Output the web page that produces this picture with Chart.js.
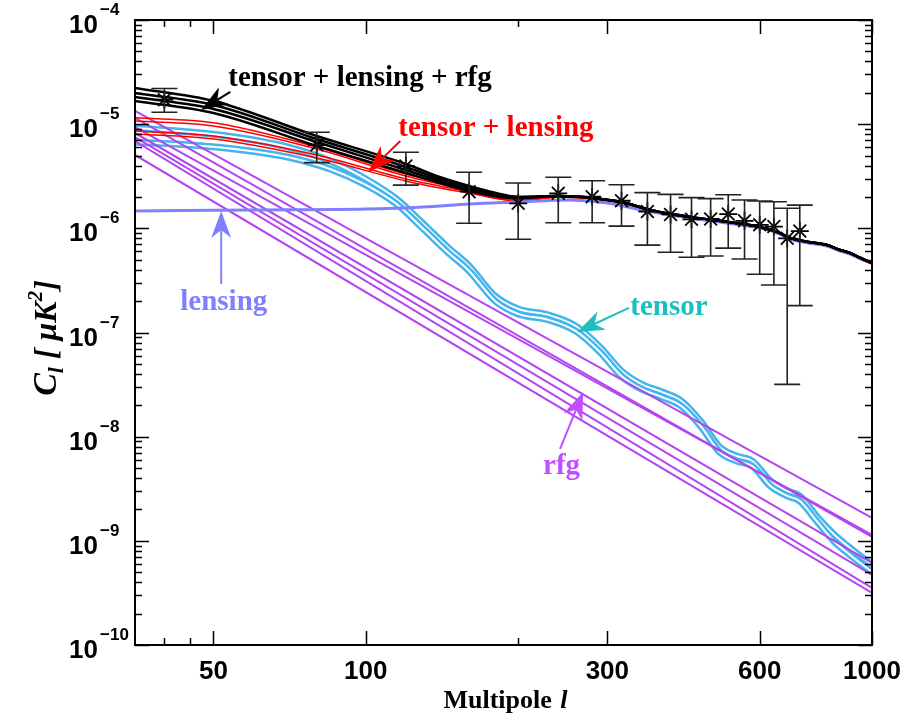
<!DOCTYPE html>
<html><head><meta charset="utf-8">
<script src="https://cdn.jsdelivr.net/npm/chart.js@4/dist/chart.umd.min.js"></script>
<style>html,body{margin:0;padding:0;background:#fff;}#wrap{width:904px;height:717px;}</style>
</head><body><div id="wrap"><canvas id="c" width="904" height="717"></canvas></div>
<script>
// ---------- data ----------
const ELL_BLACK = [35,50,80,120,140,160,184,200,240,280,320,360,400,450,520,600,650,690,750,815,865,905,950,1000];
const black1 = [2.23e-5,1.67e-5,7.70e-6,4.15e-6,3.11e-6,2.55e-6,2.14e-6,2.00e-6,2.04e-6,1.96e-6,1.79e-6,1.53e-6,1.37e-6,1.26e-6,1.15e-6,1.03e-6,9.22e-7,8.08e-7,7.39e-7,6.92e-7,6.19e-7,5.80e-7,5.19e-7,4.65e-7];
const black2 = [1.99e-5,1.53e-5,7.20e-6,3.88e-6,2.98e-6,2.44e-6,2.09e-6,2.00e-6,2.04e-6,1.96e-6,1.79e-6,1.53e-6,1.37e-6,1.26e-6,1.15e-6,1.03e-6,9.22e-7,8.08e-7,7.39e-7,6.92e-7,6.19e-7,5.80e-7,5.19e-7,4.65e-7];
const black3 = [1.82e-5,1.40e-5,6.74e-6,3.63e-6,2.85e-6,2.39e-6,2.04e-6,1.96e-6,2.04e-6,1.96e-6,1.79e-6,1.53e-6,1.37e-6,1.26e-6,1.15e-6,1.03e-6,9.22e-7,8.08e-7,7.39e-7,6.92e-7,6.19e-7,5.80e-7,5.19e-7,4.65e-7];
const black4 = [1.67e-5,1.28e-5,6.17e-6,3.40e-6,2.72e-6,2.28e-6,2.00e-6,1.96e-6,2.04e-6,1.96e-6,1.79e-6,1.53e-6,1.37e-6,1.26e-6,1.15e-6,1.03e-6,9.22e-7,8.08e-7,7.39e-7,6.92e-7,6.19e-7,5.80e-7,5.19e-7,4.65e-7];

const red1 = [1.15e-5,1.03e-5,6.04e-6,3.32e-6,2.79e-6,2.33e-6,2.00e-6,1.91e-6,2.00e-6,1.92e-6,1.75e-6,1.50e-6,1.34e-6,1.23e-6,1.12e-6,1.01e-6,9.0e-7,7.9e-7,7.2e-7,6.8e-7,6.05e-7,5.7e-7,5.08e-7,4.55e-7];
const red2 = [1.07e-5,9.60e-6,5.78e-6,3.18e-6,2.66e-6,2.28e-6,1.96e-6,1.87e-6,2.00e-6,1.92e-6,1.75e-6,1.50e-6,1.34e-6,1.23e-6,1.12e-6,1.01e-6,9.0e-7,7.9e-7,7.2e-7,6.8e-7,6.05e-7,5.7e-7,5.08e-7,4.55e-7];
const red3 = [8.60e-6,7.70e-6,5.06e-6,2.98e-6,2.55e-6,2.23e-6,1.91e-6,1.83e-6,2.00e-6,1.92e-6,1.75e-6,1.50e-6,1.34e-6,1.23e-6,1.12e-6,1.01e-6,9.0e-7,7.9e-7,7.2e-7,6.8e-7,6.05e-7,5.7e-7,5.08e-7,4.55e-7];
const red4 = [8.05e-6,7.20e-6,4.73e-6,2.85e-6,2.44e-6,2.18e-6,1.91e-6,1.83e-6,2.00e-6,1.92e-6,1.75e-6,1.50e-6,1.34e-6,1.23e-6,1.12e-6,1.01e-6,9.0e-7,7.9e-7,7.2e-7,6.8e-7,6.05e-7,5.7e-7,5.08e-7,4.55e-7];

const ELL_LENS = [35,60,100,130,160,200,250,300,350,400,450,520,600,650,690,750,815,865,905,950,1000];
const lensing = [1.47e-6,1.50e-6,1.53e-6,1.60e-6,1.71e-6,1.79e-6,1.87e-6,1.75e-6,1.50e-6,1.34e-6,1.23e-6,1.12e-6,1.01e-6,9.02e-7,7.90e-7,7.23e-7,6.77e-7,6.06e-7,5.67e-7,5.08e-7,4.65e-7];

const ELL_TENSOR = [35,45,55,70,85,100,115,130,145,160,180,200,230,260,290,320,350,385,420,460,500,540,580,630,680,720,780,840,900,1000];
const tensorA = [9.19e-6,8.41e-6,7.53e-6,6.04e-6,4.43e-6,2.98e-6,1.91e-6,1.10e-6,6.62e-7,4.35e-7,2.24e-7,1.68e-7,1.47e-7,1.15e-7,7.26e-8,4.27e-8,3.20e-8,2.68e-8,2.20e-8,1.38e-8,7.96e-9,6.52e-9,5.84e-9,3.75e-9,3.01e-9,2.70e-9,1.69e-9,1.16e-9,8.73e-10,5.86e-10];
const tensorB = [6.74e-6,6.31e-6,5.78e-6,4.84e-6,3.71e-6,2.61e-6,1.71e-6,9.86e-7,5.93e-7,3.90e-7,2.01e-7,1.51e-7,1.32e-7,1.03e-7,6.50e-8,3.82e-8,2.87e-8,2.40e-8,1.97e-8,1.24e-8,7.13e-9,5.84e-9,5.23e-9,3.36e-9,2.70e-9,2.41e-9,1.52e-9,9.97e-10,7.48e-10,5.02e-10];

const ELL_RFG = [35, 1000];
const rfg1 = [1.34e-5, 1.66e-9];
const rfg2 = [1.15e-5, 1.09e-9];
const rfg3 = [9.39e-6, 1.14e-9];
const rfg4 = [8.23e-6, 6.13e-10];
const rfg5 = [7.53e-6, 4.70e-10];
const rfg6 = [6.89e-6, 3.53e-10];
const rfg7 = [5.06e-6, 3.16e-10];

const obsEll = [40,80,120,160,200,240,280,320,360,400,440,480,520,560,600,640,680,720];
const obsC   = [1.72e-5,6.3e-6,3.96e-6,2.25e-6,1.74e-6,2.17e-6,2.01e-6,1.84e-6,1.45e-6,1.36e-6,1.22e-6,1.23e-6,1.37e-6,1.18e-6,1.08e-6,1.04e-6,8.02e-7,9.42e-7];
const obsHi  = [2.2e-5,8.35e-6,5.37e-6,3.45e-6,2.72e-6,3.09e-6,2.86e-6,2.62e-6,2.2e-6,2.12e-6,1.97e-6,1.93e-6,2.1e-6,1.87e-6,1.83e-6,1.8e-6,1.56e-6,1.67e-6];
const obsLo  = [1.3e-5,4.27e-6,2.6e-6,1.12e-6,7.85e-7,1.13e-6,1.13e-6,1.05e-6,6.9e-7,5.89e-7,5.27e-7,5.43e-7,6.45e-7,5.08e-7,3.62e-7,2.86e-7,3.18e-8,1.81e-7];

const xMajorTicks = [50,100,300,600,1000];
const xMinorTicks = [40,45,200];
const xTickLabels = ["50","100","300","600","1000"];
const yDecades = [-10,-9,-8,-7,-6,-5,-4];

// annotations: [text, color, anchor l, anchor C] and arrows [color, tail l, tail C, tip l, tip C]
const annTexts = [
  ["tensor + lensing + rfg", "#000000", 53.5, 2.33e-5],
  ["tensor + lensing", "#ff0000", 115.9, 7.70e-6],
  ["lensing", "#8080ff", 43.0, 1.64e-7],
  ["tensor", "#1cbfbf", 333, 1.47e-7],
  ["rfg", "#c050ff", 224, 4.38e-9]
];
const annArrows = [
  ["#000000", 54.0, 2.04e-5, 47.3, 1.37e-5],
  ["#ff0000", 117.0, 6.89e-6, 101.1, 3.47e-6],
  ["#8080ff", 51.8, 2.92e-7, 51.8, 1.47e-6],
  ["#1cbfbf", 331, 1.72e-7, 261.6, 1.01e-7],
  ["#c050ff", 242, 7.62e-9, 268.8, 2.68e-8]
];

// ---------- chart ----------
const SANS = '"Liberation Sans", Arial, Helvetica, sans-serif';
const SERIF = '"Liberation Serif", "Times New Roman", Times, serif';
const pts = (ell, v) => ell.map((l, i) => ({x: l, y: v[i]}));
const TBLUE = '#45b5ee', RFGC = '#b444f0';

const ds = [];
function line(data, color, width, extra) {
  ds.push(Object.assign({data, borderColor: color, borderWidth: width, pointRadius: 0,
    showLine: true, fill: false, cubicInterpolationMode: 'monotone'}, extra || {}));
}
line(pts(ELL_TENSOR, tensorA), TBLUE, 7);
line(pts(ELL_TENSOR, tensorA), '#ffffff', 2);
line(pts(ELL_TENSOR, tensorB), TBLUE, 7);
line(pts(ELL_TENSOR, tensorB), '#ffffff', 2);
[rfg1, rfg2, rfg3, rfg4, rfg5, rfg6, rfg7].forEach(r => line(pts(ELL_RFG, r), RFGC, 2, {cubicInterpolationMode: 'default', tension: 0}));
[red1, red2, red3, red4].forEach(r => line(pts(ELL_BLACK, r), '#ff0000', 1.5));
line(pts(ELL_LENS, lensing), '#8080ff', 3);
[black1, black2, black3, black4].forEach(r => line(pts(ELL_BLACK, r), '#000000', 2.5));
ds.push({data: pts(obsEll, obsC), showLine: false, pointStyle: 'star', pointRadius: 9,
  borderColor: '#000', backgroundColor: '#000', pointBorderWidth: 1.8, borderWidth: 1.8});
ds.forEach((d, i) => d.order = ds.length - i);

function arrow(ctx, x1, y1, x2, y2, color) {
  const a = Math.atan2(y2 - y1, x2 - x1), L = 27, W = 10, ind = 8;
  ctx.save();
  ctx.strokeStyle = color; ctx.lineWidth = 2;
  ctx.beginPath(); ctx.moveTo(x1, y1);
  ctx.lineTo(x2 - Math.cos(a) * (L - ind), y2 - Math.sin(a) * (L - ind)); ctx.stroke();
  ctx.translate(x2, y2); ctx.rotate(a);
  ctx.beginPath(); ctx.moveTo(0, 0); ctx.lineTo(-L, -W); ctx.lineTo(-L + ind, 0); ctx.lineTo(-L, W); ctx.closePath();
  ctx.fillStyle = color; ctx.fill();
  ctx.restore();
}

const deco = {
  id: 'deco',
  afterDatasetsDraw(chart) {
    const ctx = chart.ctx, xs = chart.scales.x, ys = chart.scales.y;
    ctx.save();
    ctx.strokeStyle = '#222'; ctx.lineWidth = 1.6;
    obsEll.forEach((l, i) => {
      const x = xs.getPixelForValue(l), yt = ys.getPixelForValue(obsHi[i]), yb = ys.getPixelForValue(obsLo[i]);
      ctx.beginPath();
      ctx.moveTo(x, yt); ctx.lineTo(x, yb);
      ctx.moveTo(x - 13, yt); ctx.lineTo(x + 13, yt);
      ctx.moveTo(x - 13, yb); ctx.lineTo(x + 13, yb);
      ctx.stroke();
    });
    ctx.restore();
  },
  afterDraw(chart) {
    const ctx = chart.ctx, xs = chart.scales.x, ys = chart.scales.y, a = chart.chartArea;
    ctx.save();
    // ticks
    ctx.strokeStyle = '#000'; ctx.lineWidth = 1.5;
    ctx.beginPath();
    yDecades.forEach(e => {
      for (let m = 1; m <= 9; m++) {
        if (e === -4 && m > 1) continue;
        const v = m * Math.pow(10, e);
        const y = Math.round(ys.getPixelForValue(v)) + 0.5;
        const len = m === 1 ? 14 : 7;
        ctx.moveTo(a.left, y); ctx.lineTo(a.left + len, y);
        ctx.moveTo(a.right, y); ctx.lineTo(a.right - len, y);
      }
    });
    xMajorTicks.concat(xMinorTicks).forEach(t => {
      const x = Math.round(xs.getPixelForValue(t)) + 0.5;
      const len = xMajorTicks.includes(t) ? 14 : 7;
      ctx.moveTo(x, a.bottom); ctx.lineTo(x, a.bottom - len);
      ctx.moveTo(x, a.top); ctx.lineTo(x, a.top + len);
    });
    ctx.stroke();
    // frame
    ctx.lineWidth = 2;
    ctx.strokeRect(a.left, a.top, a.right - a.left, a.bottom - a.top);
    // x tick labels
    ctx.fillStyle = '#000';
    ctx.font = 'bold 26px ' + SANS; ctx.textAlign = 'center'; ctx.textBaseline = 'alphabetic';
    xMajorTicks.forEach((t, i) => ctx.fillText(xTickLabels[i], xs.getPixelForValue(t), 679));
    // y tick labels
    yDecades.forEach(e => {
      const y = ys.getPixelForValue(Math.pow(10, e));
      ctx.font = 'bold 26px ' + SANS; ctx.textAlign = 'right';
      ctx.fillText('10', 98, y + 13);
      ctx.font = 'bold 17px ' + SANS; ctx.textAlign = 'left';
      ctx.fillText('\u2212' + Math.abs(e), 100, y - 5);
    });
    // x title
    ctx.textAlign = 'left';
    ctx.font = 'bold 26px ' + SERIF;
    const t1 = 'Multipole ', w1 = ctx.measureText(t1).width;
    ctx.font = 'bold italic 26px ' + SERIF;
    const w2 = ctx.measureText('l').width;
    const cx = (a.left + a.right) / 2 + 1;
    let sx = cx - (w1 + w2) / 2;
    ctx.font = 'bold 26px ' + SERIF; ctx.fillText(t1, sx, 708);
    ctx.font = 'bold italic 26px ' + SERIF; ctx.fillText('l', sx + w1 + 2, 708);
    // y title (rotated)
    const parts = [
      ['C', 'bold italic 34px ' + SERIF, 0],
      ['l', 'bold italic 22px ' + SERIF, 7],
      [' [ \u03bc', 'bold italic 32px ' + SERIF, 0],
      ['K', 'bold italic 32px ' + SERIF, 0],
      ['2', 'bold italic 21px ' + SERIF, -14],
      [']', 'bold italic 32px ' + SERIF, 0]
    ];
    let tw = 0;
    parts.forEach(p => { ctx.font = p[1]; p.push(ctx.measureText(p[0]).width); tw += p[3]; });
    ctx.translate(56, 338); ctx.rotate(-Math.PI / 2);
    let px = -tw / 2;
    parts.forEach(p => { ctx.font = p[1]; ctx.fillText(p[0], px, p[2]); px += p[3]; });
    ctx.restore();
    // annotations
    ctx.save();
    ctx.font = 'bold 29px ' + SERIF; ctx.textAlign = 'left'; ctx.textBaseline = 'alphabetic';
    annTexts.forEach(t => {
      ctx.fillStyle = t[1];
      ctx.fillText(t[0], xs.getPixelForValue(t[2]), ys.getPixelForValue(t[3]));
    });
    annArrows.forEach(r => arrow(ctx, xs.getPixelForValue(r[1]), ys.getPixelForValue(r[2]),
      xs.getPixelForValue(r[3]), ys.getPixelForValue(r[4]), r[0]));
    ctx.restore();
  }
};

new Chart(document.getElementById('c'), {
  type: 'line',
  data: {datasets: ds},
  options: {
    responsive: false, devicePixelRatio: 1, animation: false,
    layout: {padding: {top: 20, right: 32, left: 0, bottom: 0}},
    plugins: {legend: {display: false}, tooltip: {enabled: false}},
    scales: {
      x: {type: 'logarithmic', min: 35, max: 1000, ticks: {display: false}, grid: {display: false},
          border: {display: false}, afterFit: s => { s.height = 72; }},
      y: {type: 'logarithmic', min: 1e-10, max: 1e-4, ticks: {display: false}, grid: {display: false},
          border: {display: false}, afterFit: s => { s.width = 135; }}
    }
  },
  plugins: [deco]
});
</script></body></html>
